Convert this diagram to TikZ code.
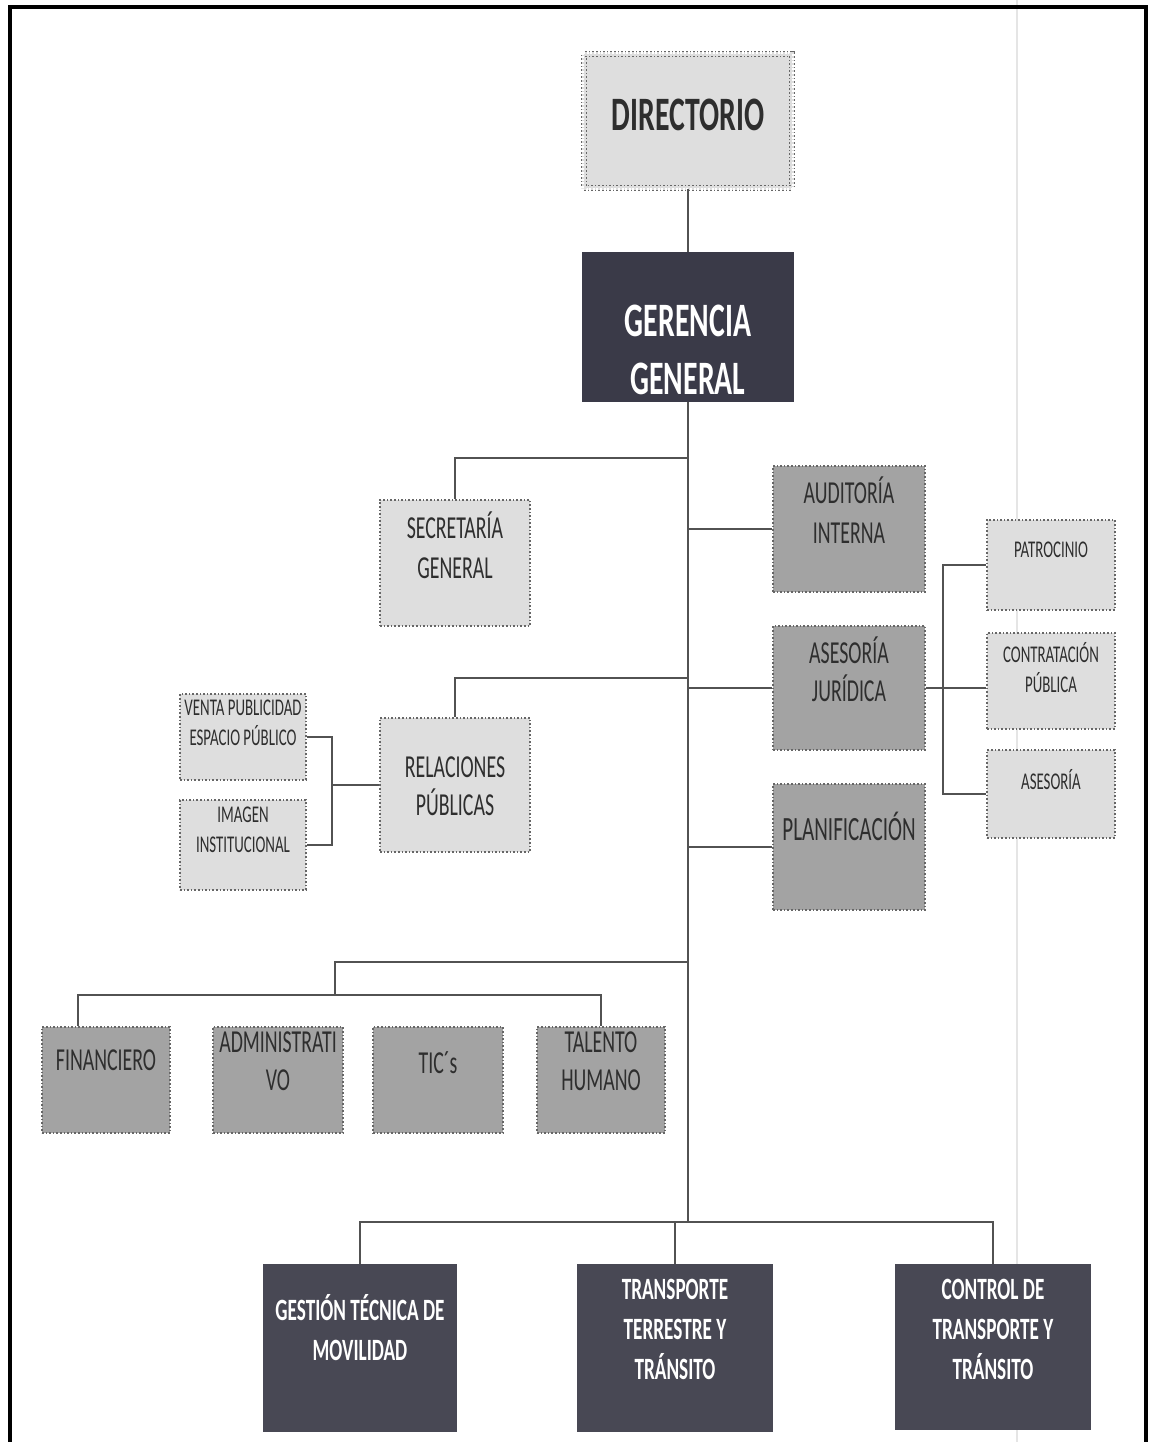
\documentclass[tikz,border=0pt]{standalone}
\usepackage{fontspec}
\setmainfont{Carlito}[FakeStretch=0.62]
\usetikzlibrary{positioning, calc}

\definecolor{lightbox}{gray}{0.87}
\definecolor{midbox}{gray}{0.64}
\definecolor{darkbox}{RGB}{58,58,72}
\definecolor{opbox}{RGB}{72,72,84}
\definecolor{linegray}{gray}{0.32}

\begin{document}
\begin{tikzpicture}[x=0.5pt, y=-0.5pt,
    box/.style={rectangle, draw=black!60, densely dotted, line width=0.8pt, inner sep=0pt},
    light/.style={box, fill=lightbox},
    mid/.style={box, fill=midbox},
    dark/.style={rectangle, fill=darkbox, inner sep=0pt},
    txt/.style={align=center, text=black!82, inner sep=0pt},
    wtxt/.style={align=center, text=white, inner sep=0pt},
    link/.style={draw=linegray, line width=1.1pt}]
    \useasboundingbox (0,0) rectangle (1151,1442);

    % page fold
    \draw[black!10, line width=0.7pt] (1017,0) -- (1017,1442);

    % top of the chart
    \node[light, double=lightbox, double distance=1.6pt, minimum width=104pt, minimum height=67pt] (dir) at (688,121) {};
    \node[txt, font=\fontsize{24}{28}\selectfont\bfseries] (dir-t) at (688,115) {DIRECTORIO};
    \node[dark, minimum width=106pt, minimum height=75pt] (ger) at (688,327) {};
    \node[wtxt, font=\fontsize{24}{29}\selectfont\bfseries] (ger-t) at (688,350) {GERENCIA\\GENERAL};

    % staff units
    \node[light, minimum width=75pt, minimum height=63pt] (sec) at (455,563) {};
    \node[txt, font=\fontsize{16}{20}\selectfont] (sec-t) at (455,545) {SECRETARÍA\\GENERAL};
    \node[light, minimum width=75pt, minimum height=67pt] (rel) at (455,785) {};
    \node[txt, font=\fontsize{16}{19}\selectfont] (rel-t) at (455,786) {RELACIONES\\PÚBLICAS};
    \node[light, minimum width=63pt, minimum height=43pt] (ven) at (243,737) {};
    \node[txt, font=\fontsize{12}{15}\selectfont] (ven-t) at (243,723) {VENTA PUBLICIDAD\\ESPACIO PÚBLICO};
    \node[light, minimum width=63pt, minimum height=45pt] (ima) at (243,845) {};
    \node[txt, font=\fontsize{12}{15}\selectfont] (ima-t) at (243,830) {IMAGEN\\INSTITUCIONAL};

    \node[mid, minimum width=76pt, minimum height=63pt] (aud) at (849,529) {};
    \node[txt, font=\fontsize{16}{20}\selectfont] (aud-t) at (849,510) {AUDITORÍA\\INTERNA};
    \node[mid, minimum width=76pt, minimum height=62pt] (jur) at (849,688) {};
    \node[txt, font=\fontsize{16}{19}\selectfont] (jur-t) at (849,669) {ASESORÍA\\JURÍDICA};
    \node[mid, minimum width=76pt, minimum height=63pt] (pla) at (849,847) {};
    \node[txt, font=\fontsize{17}{20}\selectfont] (pla-t) at (849,826) {PLANIFICACIÓN};

    \node[light, minimum width=64pt, minimum height=45pt] (pat) at (1051,565) {};
    \node[txt, font=\fontsize{12}{15}\selectfont] (pat-t) at (1051,550) {PATROCINIO};
    \node[light, minimum width=64pt, minimum height=48pt] (con) at (1051,681) {};
    \node[txt, font=\fontsize{12}{15}\selectfont] (con-t) at (1051,668) {CONTRATACIÓN\\PÚBLICA};
    \node[light, minimum width=64pt, minimum height=44pt] (ase) at (1051,794) {};
    \node[txt, font=\fontsize{12}{15}\selectfont] (ase-t) at (1051,780) {ASESORÍA};

    % support units
    \node[mid, minimum width=64pt, minimum height=53pt] (fin) at (106,1080) {};
    \node[txt, font=\fontsize{16}{19}\selectfont] (fin-t) at (106,1060) {FINANCIERO};
    \node[mid, minimum width=65pt, minimum height=53pt] (adm) at (278,1080) {};
    \node[txt, font=\fontsize{16}{19}\selectfont] (adm-t) at (278,1061) {ADMINISTRATI\\VO};
    \node[mid, minimum width=65pt, minimum height=53pt] (tic) at (438,1080) {};
    \node[txt, font=\fontsize{16}{19}\selectfont] (tic-t) at (438,1063) {TIC´s};
    \node[mid, minimum width=64pt, minimum height=53pt] (tal) at (601,1080) {};
    \node[txt, font=\fontsize{16}{19}\selectfont] (tal-t) at (601,1061) {TALENTO\\HUMANO};

    % operative units
    \node[dark, fill=opbox, minimum width=97pt, minimum height=84pt] (ges) at (360,1348) {};
    \node[wtxt, font=\fontsize{15.5}{20}\selectfont\bfseries] (ges-t) at (360,1328) {GESTIÓN TÉCNICA DE\\MOVILIDAD};
    \node[dark, fill=opbox, minimum width=98pt, minimum height=84pt] (tra) at (675,1348) {};
    \node[wtxt, font=\fontsize{15.5}{20}\selectfont\bfseries] (tra-t) at (675,1329) {TRANSPORTE\\TERRESTRE Y\\TRÁNSITO};
    \node[dark, fill=opbox, minimum width=98pt, minimum height=83pt] (ctl) at (993,1347) {};
    \node[wtxt, font=\fontsize{15.5}{20}\selectfont\bfseries] (ctl-t) at (993,1329) {CONTROL DE\\TRANSPORTE Y\\TRÁNSITO};

    % trunk
    \coordinate (j1) at (688,458);
    \coordinate (j2) at (688,678);
    \coordinate (j3) at (688,962);
    \coordinate (j4) at (688,1222);
    \draw[link] (dir.south) -- (ger.north);
    \draw[link] (ger.south) -- (j4);

    \draw[link] (sec.north) |- (j1);
    \draw[link] (rel.north) |- (j2);
    \draw[link] (aud.west) -- (aud.west -| j1);
    \draw[link] (jur.west) -- (jur.west -| j1);
    \draw[link] (pla.west) -- (pla.west -| j1);

    \coordinate (rb) at (332,785);
    \draw[link] (ven.east) -| (rb) |- (ima.east);
    \draw[link] (rel.west) -- (rb);

    \coordinate (jb) at (943,688);
    \draw[link] (jur.east) -- (jb);
    \draw[link] (pat.west) -| (jb) |- (ase.west);
    \draw[link] (jb) -- (jb -| con.west);

    \coordinate (sm) at (335,995);
    \draw[link] (j3) -| (sm);
    \draw[link] ([xshift=-14pt]fin.north) |- (sm) -| (tal.north);

    \draw[link] (ges.north) |- (j4) -| (ctl.north);
    \draw[link] (tra.north) -- (tra.north |- j4);

    % frame
    \draw[line width=2.2pt] (10,1442) -- (10,7) -- (1146,7) -- (1146,1442);
  \end{tikzpicture}
\end{document}
